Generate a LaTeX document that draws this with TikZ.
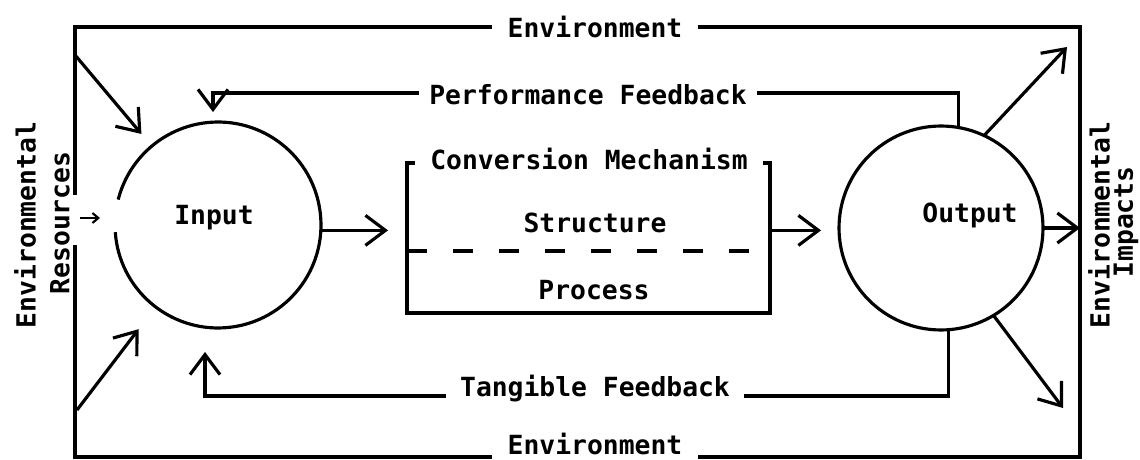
\documentclass[tikz,border=0pt]{standalone}
\usepackage{fontspec}
\setmonofont{DejaVu Sans Mono}
\usetikzlibrary{arrows.meta}

\begin{document}
\begin{tikzpicture}[x=0.02cm, y=0.02cm, line width=1.8pt,
    >={Straight Barb[length=0.4cm, width=0.6cm]},
    main node/.style={circle, minimum size=4.12cm, inner sep=0pt, outer sep=0pt},
    box node/.style={rectangle, minimum width=7.26cm, minimum height=3cm, inner sep=0pt, outer sep=0pt},
    text node/.style={anchor=base, inner sep=0pt},
    side node/.style={rotate=90, inner sep=0pt}]
  \tikzstyle{every node}=[font=\ttfamily\bfseries\fontsize{15}{18}\selectfont]
  \useasboundingbox (0,0) rectangle (1140,460);

  \coordinate (a) at (75,433);
  \coordinate (b) at (1080,433);
  \coordinate (c) at (1080,3);
  \coordinate (d) at (75,3);
  \coordinate (e) at (75,265);
  \coordinate (f) at (75,215);
  \coordinate (g) at (213,367);
  \coordinate (h) at (205,64);
  \coordinate (i) at (75,405);
  \coordinate (j) at (77,50);
  \coordinate (k) at (75,242);
  \coordinate (l) at (1067,413);
  \coordinate (m) at (1063,52);

  \node[main node] (1) at (218,235) {};
  \node[box node] (2) at (588.5,222) {};
  \node[main node, draw, minimum size=4.08cm] (3) at (941,232) {};

  \node[text node, inner xsep=8pt] (4) at (595,422) {Environment};
  \node[text node, inner xsep=8pt] (5) at (595,6) {Environment};
  \node[text node, inner xsep=5pt] (6) at (588,355) {Performance Feedback};
  \node[text node, inner xsep=7pt] (7) at (595,63) {Tangible Feedback};
  \node[text node, inner xsep=4pt] (8) at (589,290) {Conversion Mechanism};
  \node[text node] (9) at (595,227) {Structure};
  \node[text node] (10) at (594,160) {Process};
  \node[text node] (11) at (214,235) {Input};
  \node[text node] (12) at (970,237) {Output};

  \node[side node] (13) at (25,235) {Environmental};
  \node[side node] (14) at (60,237) {Resources};
  \node[side node] (15) at (1099,235) {Environmental};
  \node[side node] (16) at (1126,238) {Impacts};

  % environment frame
  \draw (4.west |- a) -- (a) -- (e);
  \draw (f) -- (d) -- (5.west |- d);
  \draw (4.east |- a) -- (b) -- (c) -- (5.east |- d);

  % input circle, open on the left
  \draw (1.184) arc[start angle=184, end angle=525.7, radius=2.06cm];

  % conversion mechanism
  \draw ([xshift=-4pt]8.west |- 2.north) -- (2.north west) -- (2.south west)
    -- (2.south east) -- (2.north east) -- ([xshift=4pt]8.east |- 2.north);
  \draw[dash pattern=on 0.4cm off 0.52cm] ([yshift=-0.26cm]2.west) -- ([yshift=-0.26cm]2.east);

  % feedback loops
  \draw[->, shorten >=0.2cm] (6.west |- g) -- (g) -- (g |- 1.north);
  \draw (6.east |- g) -| (3.80);
  \draw[->, shorten >=0.48cm] (7.west |- h) -- (h) -- (h |- 1.south);
  \draw (7.east |- h) -| (3.274);

  \path[->]
    (i) edge[shorten >=0.32cm] (1)
    (j) edge[shorten >=0.56cm] (1)
    (1.-3) edge[shorten >=0.38cm] (1.-3 -| 2.west)
    (2.east |- 1.-3) edge[shorten >=0.36cm] (3.west |- 1.-3)
    (3.65) edge (l)
    (3.east) edge (3.east -| c)
    (3.-59) edge (m);
  \draw[-{Straight Barb[length=0.12cm, width=0.2cm]}, line width=1.2pt,
    shorten <=0.1cm, shorten >=0.3cm] (k) -- (k -| 1.west);
\end{tikzpicture}
\end{document}
